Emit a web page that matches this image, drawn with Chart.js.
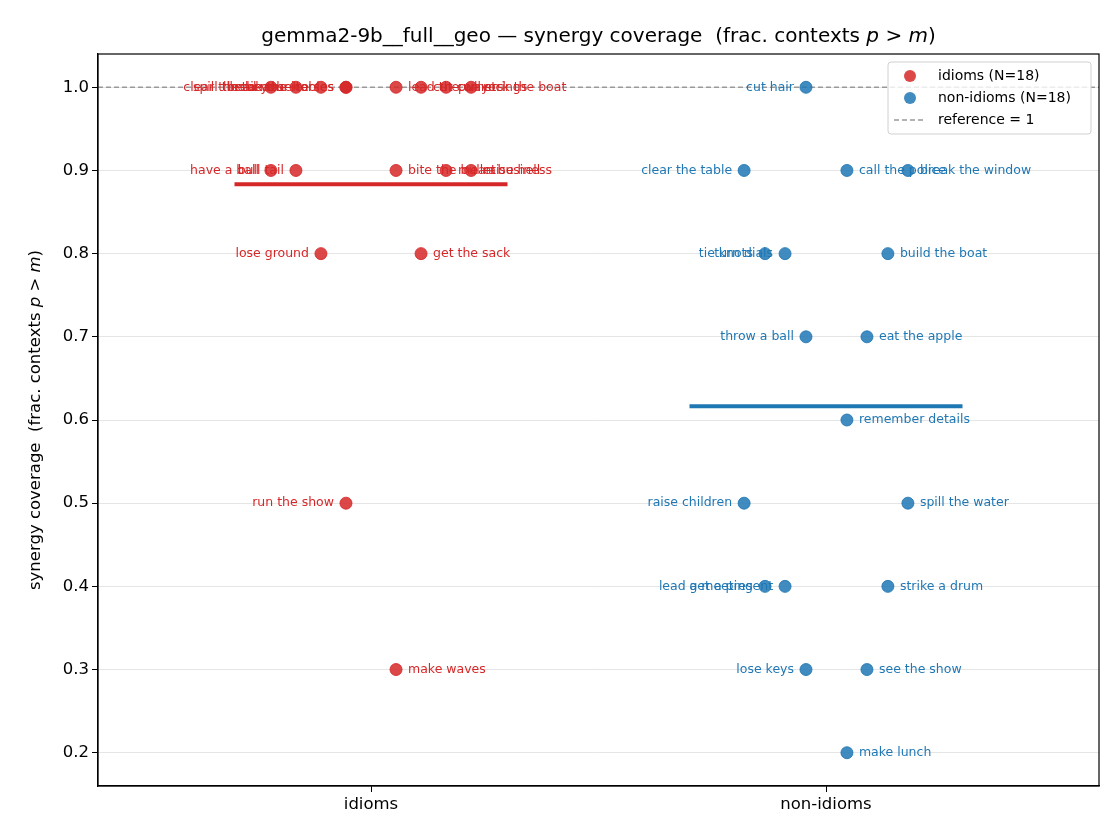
<!DOCTYPE html>
<html>
<head>
<meta charset="utf-8">
<script src="https://cdn.jsdelivr.net/npm/chart.js@4"></script>
<style>
  body { margin: 0; background: white; }
  #wrap { width: 1120px; height: 840px; }
</style>
</head>
<body>
<div id="wrap"><canvas id="myChart" width="1120" height="840"></canvas></div>
<script>
// categories
const categories = ["idioms", "non-idioms"];

// idioms: jittered x offset, coverage, label
const idiomX = [-0.22, -0.165, -0.11, -0.055, -0.055, 0.055, 0.11, 0.165, 0.22,
  -0.22, -0.165, 0.055, 0.165, 0.22,
  -0.11, 0.11, -0.055, 0.055];
const idiomY = [1, 1, 1, 1, 1, 1, 1, 1, 1,
  0.9, 0.9, 0.9, 0.9, 0.9,
  0.8, 0.8, 0.5, 0.3];
const idiomLabels = ["clear the air", "spill the beans", "break the ice", "hold your horses", "turn the tables",
  "lead the way", "cut corners", "pull strings", "rock the boat",
  "have a ball", "bull tail", "bite the bullet", "mean business", "raise hell",
  "lose ground", "get the sack", "run the show", "make waves"];

// non-idioms
const nonX = [-0.044, -0.18, 0.046, 0.18, -0.134, -0.09, 0.136, -0.044, 0.09,
  0.046, -0.18, 0.18, -0.134, -0.09, 0.136, -0.044, 0.09, 0.046];
const nonY = [1, 0.9, 0.9, 0.9, 0.8, 0.8, 0.8, 0.7, 0.7,
  0.6, 0.5, 0.5, 0.4, 0.4, 0.4, 0.3, 0.3, 0.2];
const nonLabels = ["cut hair", "clear the table", "call the police", "break the window", "tie knots", "turn dials",
  "build the boat", "throw a ball", "eat the apple", "remember details", "raise children", "spill the water",
  "lead a meeting", "get a present", "strike a drum", "lose keys", "see the show", "make lunch"];

const idiomMean = idiomY.reduce((a, b) => a + b, 0) / idiomY.length;
const nonMean = nonY.reduce((a, b) => a + b, 0) / nonY.length;

const RED = "rgba(214,39,40,0.85)";
const BLUE = "rgba(31,119,180,0.85)";
const FONT = "'DejaVu Sans', sans-serif";

const pointLabelPlugin = {
  id: "pointLabelPlugin",
  afterDatasetsDraw(chart) {
    const ctx = chart.ctx;
    const x = chart.scales.x, y = chart.scales.y;
    ctx.save();
    ctx.font = "12.5px " + FONT;
    ctx.textBaseline = "middle";
    const groups = [[idiomX, idiomY, idiomLabels, 0, "#d62728"], [nonX, nonY, nonLabels, 1, "#1f77b4"]];
    groups.forEach(([xs, ys, labs, c, col]) => {
      ctx.fillStyle = col;
      xs.forEach((dx, i) => {
        const px = x.getPixelForValue(c + dx), py = y.getPixelForValue(ys[i]);
        if (dx > 0) { ctx.textAlign = "left"; ctx.fillText(labs[i], px + 12, py); }
        else { ctx.textAlign = "right"; ctx.fillText(labs[i], px - 12, py); }
      });
    });
    ctx.restore();
  },
  afterDraw(chart) {
    const ctx = chart.ctx;
    const a = chart.chartArea;
    ctx.save();
    // frame
    ctx.strokeStyle = "#000"; ctx.lineWidth = 1.2;
    ctx.strokeRect(a.left, a.top, a.right - a.left, a.bottom - a.top);
    // title with italic p and m
    const parts = [["gemma2-9b__full__geo — synergy coverage  (frac. contexts ", ""], ["p", "italic "], [" > ", ""], ["m", "italic "], [")", ""]];
    ctx.textBaseline = "alphabetic";
    ctx.fillStyle = "#000";
    let total = 0;
    parts.forEach(([t, s]) => { ctx.font = s + "20px " + FONT; total += ctx.measureText(t).width; });
    let tx = (a.left + a.right) / 2 - total / 2;
    parts.forEach(([t, s]) => { ctx.font = s + "20px " + FONT; ctx.textAlign = "left"; ctx.fillText(t, tx, 42); tx += ctx.measureText(t).width; });
    // y axis title
    const yparts = [["synergy coverage  (frac. contexts ", ""], ["p", "italic "], [" > ", ""], ["m", "italic "], [")", ""]];
    total = 0;
    yparts.forEach(([t, s]) => { ctx.font = s + "16.5px " + FONT; total += ctx.measureText(t).width; });
    ctx.translate(40, (a.top + a.bottom) / 2);
    ctx.rotate(-Math.PI / 2);
    tx = -total / 2;
    yparts.forEach(([t, s]) => { ctx.font = s + "16.5px " + FONT; ctx.fillText(t, tx, 0); tx += ctx.measureText(t).width; });
    ctx.setTransform(1, 0, 0, 1, 0, 0);
    // legend box
    const lx = 888, ly = 62, lw = 203, lh = 72;
    ctx.fillStyle = "rgba(255,255,255,0.8)";
    ctx.strokeStyle = "#d0d0d0";
    ctx.lineWidth = 1;
    ctx.beginPath(); ctx.roundRect(lx, ly, lw, lh, 3); ctx.fill(); ctx.stroke();
    ctx.font = "14px " + FONT;
    ctx.textBaseline = "middle";
    ctx.textAlign = "left";
    [[RED, "idioms (N=18)"], [BLUE, "non-idioms (N=18)"]].forEach(([c, t], i) => {
      const yy = ly + 14 + i * 22;
      ctx.fillStyle = c;
      ctx.beginPath(); ctx.arc(910, yy, 6, 0, Math.PI * 2); ctx.fill();
      ctx.fillStyle = "#000"; ctx.fillText(t, 938, yy);
    });
    ctx.strokeStyle = "#999"; ctx.setLineDash([5, 3]); ctx.lineWidth = 1.3;
    ctx.beginPath(); ctx.moveTo(894, ly + 58); ctx.lineTo(926, ly + 58); ctx.stroke();
    ctx.setLineDash([]);
    ctx.fillStyle = "#000"; ctx.fillText("reference = 1", 938, ly + 58);
    ctx.restore();
  }
};

const data = {
  datasets: [
    {
      type: "line", data: [{ x: -0.6, y: 1 }, { x: 1.6, y: 1 }],
      borderColor: "#999", borderWidth: 1.3, borderDash: [5, 3], pointRadius: 0, order: 3
    },
    {
      type: "line", data: [{ x: -0.3, y: idiomMean }, { x: 0.3, y: idiomMean }],
      borderColor: "#d62728", borderWidth: 4, pointRadius: 0, order: 2
    },
    {
      type: "line", data: [{ x: 0.7, y: nonMean }, { x: 1.3, y: nonMean }],
      borderColor: "#1f77b4", borderWidth: 4, pointRadius: 0, order: 2
    },
    {
      data: idiomX.map((dx, i) => ({ x: dx, y: idiomY[i] })),
      backgroundColor: RED, borderColor: RED, pointRadius: 6, order: 1
    },
    {
      data: nonX.map((dx, i) => ({ x: 1 + dx, y: nonY[i] })),
      backgroundColor: BLUE, borderColor: BLUE, pointRadius: 6, order: 1
    }
  ]
};

const config = {
  type: "scatter",
  data: data,
  options: {
    responsive: false,
    animation: false,
    layout: { padding: { top: 54, right: 21, left: 0, bottom: 0 } },
    plugins: { legend: { display: false }, tooltip: { enabled: false } },
    scales: {
      x: {
        type: "linear", min: -0.6, max: 1.6,
        afterBuildTicks: (s) => { s.ticks = [{ value: 0 }, { value: 1 }]; },
        afterFit: (s) => { s.height = 54; },
        grid: { display: true, drawOnChartArea: false, tickColor: "#000", tickLength: 6 },
        border: { color: "#000", width: 1.2 },
        ticks: { color: "#000", font: { size: 16.5, family: FONT }, callback: (v) => categories[v] }
      },
      y: {
        min: 0.16, max: 1.04,
        afterBuildTicks: (s) => { s.ticks = [0.2, 0.3, 0.4, 0.5, 0.6, 0.7, 0.8, 0.9, 1.0].map(v => ({ value: v })); },
        afterFit: (s) => { s.width = 98; },
        grid: { color: "rgba(0,0,0,0.1)", tickColor: "#000", tickLength: 6 },
        border: { color: "#000", width: 1.2 },
        ticks: { color: "#000", font: { size: 16.5, family: FONT }, callback: (v) => v.toFixed(1) }
      }
    }
  },
  plugins: [pointLabelPlugin]
};

new Chart(document.getElementById("myChart").getContext("2d"), config);
</script>
</body>
</html>
